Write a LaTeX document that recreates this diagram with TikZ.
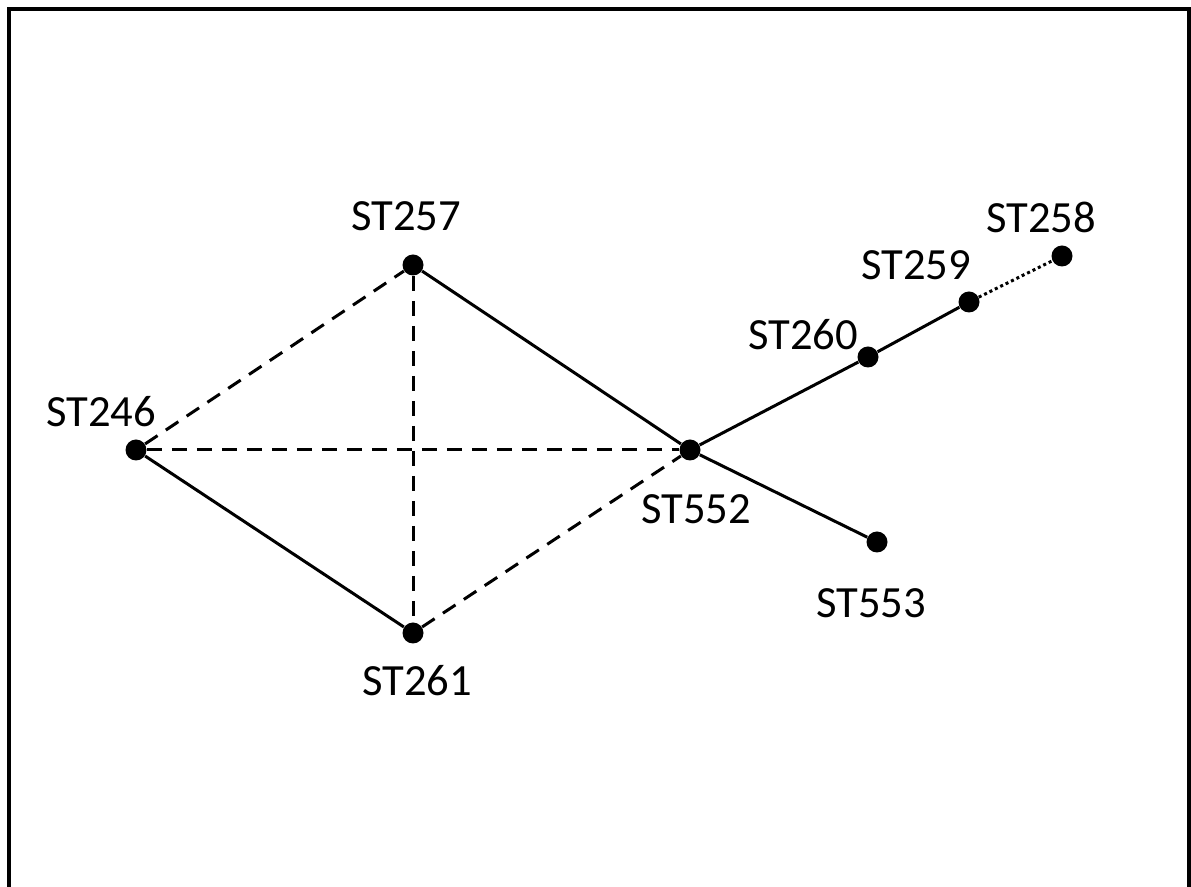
\documentclass[tikz,border=0pt]{standalone}
\usepackage{fontspec}
\setmainfont{Carlito}
\usetikzlibrary{positioning}
\tikzstyle{station} = [circle, fill=black, inner sep=0pt, minimum size=10.5pt]
\tikzstyle{lbl} = [inner sep=0pt, font=\fontsize{22.3}{26}\selectfont]
\tikzstyle{link} = [line width=1.5pt]
\tikzstyle{maybe} = [line width=1.5pt, dash pattern=on 7.5pt off 5pt]
\tikzstyle{weak} = [line width=1.5pt, dash pattern=on 1.5pt off 1.5pt]

\begin{document}
\begin{tikzpicture}[x=0.5pt, y=-0.5pt]
        \useasboundingbox (0,0) rectangle (1191,887);
        \draw [line width=2pt] (9,900) -- (9,9) -- (1189,9) -- (1189,900);

        %Stations
        \node at (413,265)(n257) [station] {};
        \node at (136,450)(n246) [station] {};
        \node at (690,450)(n552) [station] {};
        \node at (413,633)(n261) [station] {};
        \node at (877,542)(n553) [station] {};
        \node at (868,357)(n260) [station] {};
        \node at (969,302)(n259) [station] {};
        \node at (1062,256)(n258) [station] {};

        %Labels
        \node at (406,216)(t257) [lbl] {ST257};
        \node at (101,412)(t246) [lbl] {ST246};
        \node at (696,509)(t552) [lbl] {ST552};
        \node at (417,681)(t261) [lbl] {ST261};
        \node at (871,603)(t553) [lbl] {ST553};
        \node at (803,335)(t260) [lbl] {ST260};
        \node at (916,265)(t259) [lbl] {ST259};
        \node at (1041,217)(t258) [lbl] {ST258};

        %Solid links
        \draw [link] (n257) -- (n552);
        \draw [link] (n246) -- (n261);
        \draw [link] (n552) -- (n260) -- (n259);
        \draw [link] (n552) -- (n553);

        %Dashed links
        \draw [maybe] (n246) -- (n257);
        \draw [maybe] (n246) -- (n552);
        \draw [maybe] (n257) -- (n261);
        \draw [maybe] (n261) -- (n552);

        %Dotted link
        \draw [weak] (n259) -- (n258);
\end{tikzpicture}
\end{document}
